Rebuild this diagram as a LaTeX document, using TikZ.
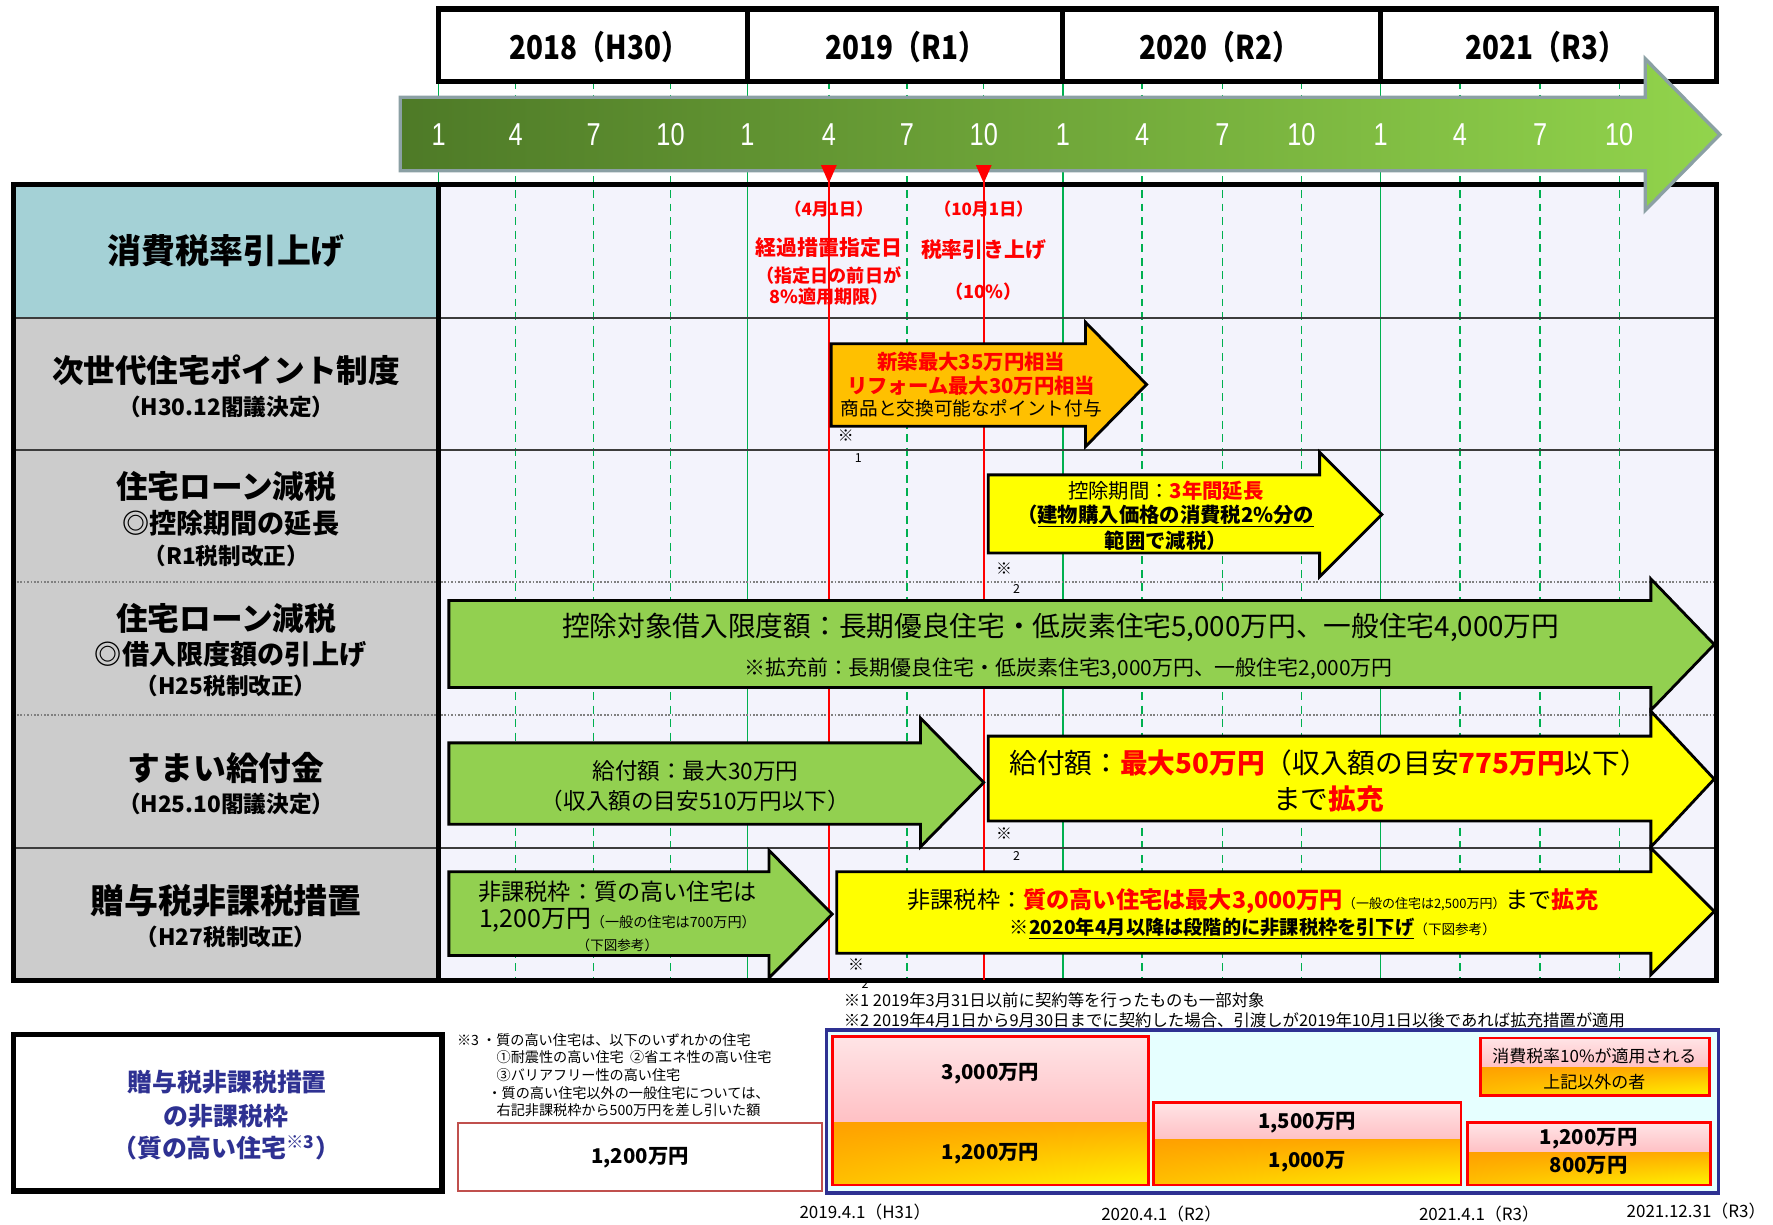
\documentclass[tikz,border=0pt]{standalone}
\usepackage{fontspec}
\usetikzlibrary{shadings}
\setmainfont{Noto Sans CJK JP}
\newfontfamily\cond[FakeStretch=0.85]{Noto Sans CJK JP}
\newfontfamily\monthf[FakeStretch=0.8]{Liberation Sans}
\newcommand{\fz}[1]{\fontsize{#1}{#1}\selectfont}
\definecolor{gridgreen}{RGB}{0,176,80}
\definecolor{tealbg}{RGB}{164,209,214}
\definecolor{graybg}{RGB}{204,204,204}
\definecolor{areabg}{RGB}{243,243,252}
\definecolor{arrowgreen}{RGB}{146,208,80}
\definecolor{arroworange}{RGB}{255,192,0}
\definecolor{arrowyellow}{RGB}{255,255,0}
\definecolor{navy}{RGB}{46,49,146}
\definecolor{boxred}{RGB}{192,80,77}
\definecolor{lightcyan}{RGB}{230,255,255}
\definecolor{tlborder}{RGB}{139,160,164}
\definecolor{tldark}{RGB}{78,122,39}
\definecolor{tllight}{RGB}{146,212,76}
\definecolor{pinktop}{RGB}{255,228,230}
\definecolor{pinkbot}{RGB}{255,192,196}
\definecolor{orUL}{RGB}{255,160,0}
\definecolor{orUR}{RGB}{255,172,0}
\definecolor{orLL}{RGB}{255,192,0}
\definecolor{orLR}{RGB}{255,245,0}
\definecolor{rowsep}{RGB}{60,60,60}
\newcommand{\harrow}[8]{%
  \path[#1] (#2,#3) -- (#5,#3) -- (#5,#6) -- (#8,{(#6+#7)/2}) -- (#5,#7) -- (#5,#4) -- (#2,#4) -- cycle;}
\begin{document}
\begin{tikzpicture}[x=1pt,y=-1pt,
  txt/.style={inner sep=0pt, anchor=center},
  ltxt/.style={inner sep=0pt, anchor=west},
  gline/.style={draw=gridgreen, line width=1.3pt},
  gdash/.style={draw=gridgreen, line width=1.3pt, dash pattern=on 7pt off 5pt},
  rowline/.style={draw=rowsep, line width=2pt},
  dotline/.style={draw=gray, line width=2pt, dash pattern=on 1.5pt off 1.5pt},
  tbl/.style={draw=black, line width=4.5pt},
  redline/.style={draw=red, line width=1.5pt},
  arrG/.style={draw=black, line width=2.5pt, fill=arrowgreen, line join=miter},
  arrY/.style={draw=black, line width=2.5pt, fill=arrowyellow, line join=miter},
  arrO/.style={draw=black, line width=2.5pt, fill=arroworange, line join=miter},
  redbox/.style={draw=red, line width=2.5pt},
  pinkfill/.style={top color=pinktop, bottom color=pinkbot},
  orfill/.style={upper left=orUL, upper right=orUR, lower left=orLL, lower right=orLR},
  heavy/.style={text=navy, font=\bfseries\fz{22}, inner sep=0pt, anchor=center}
]
\useasboundingbox (0,0) rectangle (1568,1083);

% ---------- fills ----------
\fill[tealbg] (12,163) rectangle (388,281);
\fill[graybg] (12,281) rectangle (388,867);
\fill[areabg] (388,163) rectangle (1518,867);
\fill[white] (388,8) rectangle (1518,72);

% ---------- grid lines ----------
\draw[gline] (388,72) -- (388,163);
\foreach \x in {661,940,1221} \draw[gline] (\x,72) -- (\x,867);
\foreach \x in {456,525,593,733,802,870,1010,1081,1151,1291,1362,1432} \draw[gdash] (\x,72) -- (\x,867);

% ---------- table lines ----------
\foreach \y in {281,398,750} \draw[rowline] (12,\y) -- (1518,\y);
\foreach \y in {515,632} \draw[dotline] (12,\y) -- (1518,\y);
\draw[tbl] (12,163) rectangle (1518,867);
\draw[tbl] (388,163) -- (388,867);

% ---------- header ----------
\draw[tbl] (388,8) rectangle (1518,72);
\foreach \x in {661,940,1221} \draw[tbl] (\x,8) -- (\x,72);
\node[txt, font=\cond\bfseries\fz{29}] (y18) at (530,42) {2018（H30）};
\node[txt, font=\cond\bfseries\fz{29}] (y19) at (801,42) {2019（R1）};
\node[txt, font=\cond\bfseries\fz{29}] (y20) at (1079,42) {2020（R2）};
\node[txt, font=\cond\bfseries\fz{29}] (y21) at (1367,42) {2021（R3）};

% ---------- red lines ----------
\draw[redline] (733,155) -- (733,867);
\draw[redline] (870,155) -- (870,867);

% ---------- timeline arrow ----------
\harrow{draw=tlborder, line width=3pt, left color=tldark, right color=tllight, line join=miter}{354}{86}{151}{1455}{52}{186}{1521}
\foreach \x/\m [count=\i] in {388/1,456/4,525/7,593/10,661/1,733/4,802/7,870/10,940/1,1010/4,1081/7,1151/10,1221/1,1291/4,1362/7,1432/10}
  \node[txt, text=white, font=\monthf\fz{28}] (m\i) at (\x,119) {\m};
\fill[red] (726,146) -- (740,146) -- (733,162) -- cycle;
\fill[red] (863,146) -- (877,146) -- (870,162) -- cycle;

% ---------- left column ----------
\node[txt, font=\bfseries\fz{30}] (l1) at (200,222) {消費税率引上げ};
\node[txt, font=\bfseries\fz{28}] (l2a) at (200,327) {次世代住宅ポイント制度};
\node[txt, font=\bfseries\fz{20}] (l2b) at (200,360) {（H30.12閣議決定）};
\node[txt, font=\bfseries\fz{28}] (l3a) at (200,430) {住宅ローン減税};
\node[txt, font=\bfseries\fz{24}] (l3b) at (204,463) {◎控除期間の延長};
\node[txt, font=\bfseries\fz{20}] (l3c) at (200,492) {（R1税制改正）};
\node[txt, font=\bfseries\fz{28}] (l4a) at (200,547) {住宅ローン減税};
\node[txt, font=\bfseries\fz{24}] (l4b) at (204,579) {◎借入限度額の引上げ};
\node[txt, font=\bfseries\fz{20}] (l4c) at (200,607) {（H25税制改正）};
\node[txt, font=\bfseries\fz{29}] (l5a) at (200,679) {すまい給付金};
\node[txt, font=\bfseries\fz{20}] (l5b) at (200,711) {（H25.10閣議決定）};
\node[txt, font=\bfseries\fz{30}] (l6a) at (200,797) {贈与税非課税措置};
\node[txt, font=\bfseries\fz{20}] (l6b) at (200,829) {（H27税制改正）};

% ---------- row 1 ----------
\node[txt, text=red, font=\bfseries\fz{15}] (r1a) at (733,185) {（4月1日）};
\node[txt, text=red, font=\bfseries\fz{18.5}] (r1b) at (733,219) {経過措置指定日};
\node[txt, text=red, font=\bfseries\fz{16}] (r1c) at (733,244) {（指定日の前日が};
\node[txt, text=red, font=\bfseries\fz{16}] (r1d) at (733,262) {8\%適用期限）};
\node[txt, text=red, font=\bfseries\fz{15}] (r1e) at (870,185) {（10月1日）};
\node[txt, text=red, font=\bfseries\fz{18.5}] (r1f) at (870,221) {税率引き上げ};
\node[txt, text=red, font=\bfseries\fz{16}] (r1g) at (870,258) {（10\%）};

% ---------- row 2 ----------
\harrow{arrO}{735}{304}{377}{960}{285}{395}{1014}
\node[txt, text=red, font=\bfseries\fz{18}] (r2a) at (859,320) {新築最大35万円相当};
\node[txt, text=red, font=\bfseries\fz{18}] (r2b) at (859,341) {リフォーム最大30万円相当};
\node[txt, font=\fz{16.5}] (r2c) at (859,361) {商品と交換可能なポイント付与};
\node[txt, font=\fz{14}] (n2a) at (748,385) {※};
\node[txt, font=\fz{11}] (n2b) at (759,405) {1};

% ---------- row 3 ----------
\harrow{arrY}{874}{420}{489}{1167}{400}{510}{1222}
\node[txt, font=\fz{18}] (r3a) at (1031,434) {控除期間：\textcolor{red}{\bfseries 3年間延長}};
\node[txt, font=\bfseries\fz{18}] (r3b) at (1031,456) {（\underline{建物購入価格の消費税2\%分の}};
\node[txt, font=\bfseries\fz{18}] (r3c) at (1031,479) {\underline{範囲で減税}）};
\node[txt, font=\fz{14}] (n3a) at (888,503) {※};
\node[txt, font=\fz{11}] (n3b) at (899,521) {2};

% ---------- row 4 ----------
\harrow{arrG}{397}{531}{608}{1460}{512}{628}{1516}
\node[txt, font=\fz{24.5}] (r4a) at (938,555) {控除対象借入限度額：長期優良住宅・低炭素住宅5,000万円、一般住宅4,000万円};
\node[txt, font=\fz{18.5}] (r4b) at (945,591) {※拡充前：長期優良住宅・低炭素住宅3,000万円、一般住宅2,000万円};

% ---------- row 5 ----------
\harrow{arrG}{397}{657}{729}{814}{635}{749}{870}
\node[txt, font=\fz{20}] (r5a) at (615,682) {給付額：最大30万円};
\node[txt, font=\fz{20}] (r5b) at (615,708) {（収入額の目安510万円以下）};
\harrow{arrY}{874}{651}{726}{1460}{629}{749}{1516}
\node[txt, font=\fz{24.5}] (r5c) at (1175,675) {給付額：\textcolor{red}{\bfseries 最大50万円}（収入額の目安\textcolor{red}{\bfseries 775万円}以下）};
\node[txt, font=\fz{24.5}] (r5d) at (1175,707) {まで\textcolor{red}{\bfseries 拡充}};
\node[txt, font=\fz{14}] (n5a) at (888,737) {※};
\node[txt, font=\fz{11}] (n5b) at (899,757) {2};

% ---------- row 6 ----------
\harrow{arrG}{397}{771}{845}{680}{752}{865}{736}
\node[txt, font=\fz{20.5}] (r6a) at (546,789) {非課税枠：質の高い住宅は};
\node[txt, font=\fz{22}] (r6b) at (546,814) {1,200万円{\fz{12.5}（一般の住宅は700万円）}};
\node[txt, font=\fz{12}] (r6c) at (546,836) {（下図参考）};
\harrow{arrY}{740}{771}{843}{1460}{750}{862}{1516}
\node[txt, font=\fz{20.5}] (r6d) at (1108,797) {非課税枠：\textcolor{red}{\bfseries 質の高い住宅は最大3,000万円}{\fz{11.5}（一般の住宅は2,500万円）}まで\textcolor{red}{\bfseries 拡充}};
\node[txt, font=\fz{17}] (r6e) at (1108,821) {※{\bfseries\underline{2020年4月以降は段階的に非課税枠を引下げ}}{\fz{12}（下図参考）}};
\node[txt, font=\fz{14}] (n6a) at (757,853) {※};
\node[txt, font=\fz{11}] (n6b) at (765,870) {2};

% ---------- notes ----------
\node[ltxt, font=\fz{14.5}] (note1) at (746,885) {※1 2019年3月31日以前に契約等を行ったものも一部対象};
\node[ltxt, font=\fz{14.5}] (note2) at (746,902) {※2 2019年4月1日から9月30日までに契約した場合、引渡しが2019年10月1日以後であれば拡充措置が適用};

% ---------- bottom left ----------
\draw[draw=black, line width=5pt, fill=white] (12,915) rectangle (391,1053);
\node[heavy] (b1) at (201,957) {贈与税非課税措置};
\node[heavy] (b2) at (200,987) {の非課税枠};
\node[heavy] (b3) at (200,1015) {（質の高い住宅\textsuperscript{※3}）};
\node[ltxt, font=\fz{12.5}] (n3l1) at (404,920) {※3 ・質の高い住宅は、以下のいずれかの住宅};
\node[ltxt, font=\fz{12.5}] (n3l2) at (439,935) {①耐震性の高い住宅\ \ ②省エネ性の高い住宅};
\node[ltxt, font=\fz{12.5}] (n3l3) at (439,951) {③バリアフリー性の高い住宅};
\node[ltxt, font=\fz{12.5}] (n3l4) at (431,967) {・質の高い住宅以外の一般住宅については、};
\node[ltxt, font=\fz{12.5}] (n3l5) at (439,982) {右記非課税枠から500万円を差し引いた額};
\draw[draw=boxred, line width=2pt, fill=white] (405,993) rectangle (727,1053);
\node[txt, font=\bfseries\fz{18}] (v0) at (566,1024) {1,200万円};

% ---------- bottom right ----------
\draw[draw=navy, line width=3pt, fill=lightcyan] (731,911) rectangle (1520,1055);
\shade[pinkfill] (736,917) rectangle (1016,993);
\shade[orfill] (736,993) rectangle (1016,1048);
\draw[redbox] (736,917) rectangle (1016,1048);
\shade[pinkfill] (1020,975) rectangle (1292,1008);
\shade[orfill] (1020,1008) rectangle (1292,1048);
\draw[redbox] (1020,975) rectangle (1292,1048);
\shade[pinkfill] (1298,993) rectangle (1513,1019);
\shade[orfill] (1298,1019) rectangle (1513,1048);
\draw[redbox] (1298,993) rectangle (1513,1048);
\shade[pinkfill] (1309,918) rectangle (1512,944);
\shade[orfill] (1309,944) rectangle (1512,969);
\draw[redbox] (1309,918) rectangle (1512,969);
\node[txt, font=\bfseries\fz{18}] (v1) at (876,950) {3,000万円};
\node[txt, font=\bfseries\fz{18}] (v2) at (876,1020) {1,200万円};
\node[txt, font=\bfseries\fz{18}] (v3) at (1156,993) {1,500万円};
\node[txt, font=\bfseries\fz{18}] (v4) at (1156,1027) {1,000万};
\node[txt, font=\bfseries\fz{18}] (v5) at (1405,1007) {1,200万円};
\node[txt, font=\bfseries\fz{18}] (v6) at (1405,1031) {800万円};
\node[txt, font=\fz{15}] (lg1) at (1410,934) {消費税率10\%が適用される};
\node[txt, font=\fz{15}] (lg2) at (1410,957) {上記以外の者};

% ---------- dates ----------
\node[txt, font=\fz{15}] (d1) at (765,1072) {2019.4.1（H31）};
\node[txt, font=\fz{15}] (d2) at (1027,1074) {2020.4.1（R2）};
\node[txt, font=\fz{15}] (d3) at (1308,1074) {2021.4.1（R3）};
\node[txt, font=\fz{15}] (d4) at (1500,1071) {2021.12.31（R3）};
\end{tikzpicture}
\end{document}
